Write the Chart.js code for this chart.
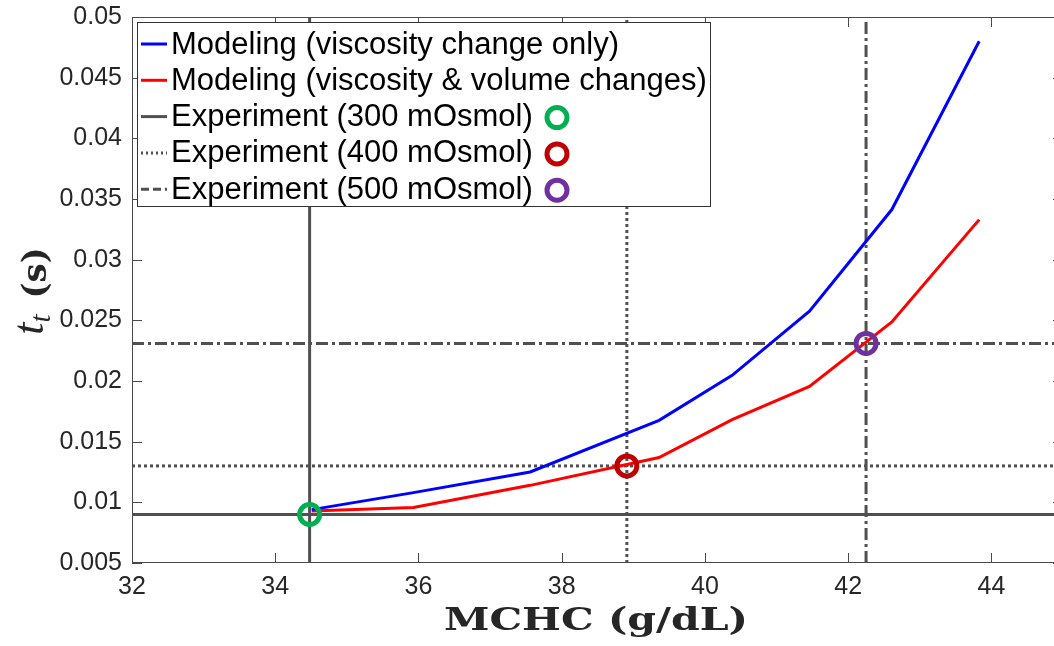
<!DOCTYPE html>
<html>
<head>
<meta charset="utf-8">
<script src="https://cdn.jsdelivr.net/npm/chart.js@4/dist/chart.umd.min.js"></script>
<style>
html,body{margin:0;padding:0;background:#fff;overflow:hidden;width:1054px;height:646px}
canvas{display:block}
</style>
</head>
<body>
<canvas id="c" width="1080" height="646" style="width:1080px;height:646px"></canvas>
<script>
// ---- data ----
const xTickValues = [32, 34, 36, 38, 40, 42, 44];
const xTickLabels = ['32', '34', '36', '38', '40', '42', '44'];
const yTickValues = [0.005, 0.01, 0.015, 0.02, 0.025, 0.03, 0.035, 0.04, 0.045, 0.05];
const yTickLabels = ['0.005', '0.01', '0.015', '0.02', '0.025', '0.03', '0.035', '0.04', '0.045', '0.05'];
const xRange = [32, 45];
const yRange = [0.005, 0.05];

const mchcModel = [34.51, 35.93, 37.56, 39.36, 40.38, 41.46, 42.61, 43.83];
const ttViscosityOnly = [0.0094, 0.0108, 0.0125, 0.01676, 0.02047, 0.02575, 0.03413, 0.0480];
const ttViscosityVolume = [0.00929, 0.00957, 0.0114, 0.01369, 0.01682, 0.01956, 0.02486, 0.0333];

const modelLabels = ['Modeling (viscosity change only)', 'Modeling (viscosity & volume changes)'];
const modelColors = ['#0000ff', '#ff0000'];

const expLabels = ['Experiment (300 mOsmol)', 'Experiment (400 mOsmol)', 'Experiment (500 mOsmol)'];
const expMCHC = [34.48, 38.91, 42.25];
const expTt = [0.0090, 0.0130, 0.0231];
const expMarkerColors = ['#00b050', '#c00000', '#7030a0'];
const expDashes = [[], [3, 3], [12, 4, 3, 4]];
const expLineColor = '#505050';

// ---- datasets ----
const datasets = [];
datasets.push({
  label: modelLabels[0],
  data: mchcModel.map((x, i) => ({x, y: ttViscosityOnly[i]})),
  borderColor: modelColors[0], borderWidth: 3, showLine: true, pointRadius: 0, order: 1
});
datasets.push({
  label: modelLabels[1],
  data: mchcModel.map((x, i) => ({x, y: ttViscosityVolume[i]})),
  borderColor: modelColors[1], borderWidth: 3, showLine: true, pointRadius: 0, order: 1
});
expLabels.forEach((lab, i) => {
  datasets.push({
    label: lab + ' h',
    data: [{x: xRange[0], y: expTt[i]}, {x: xRange[1], y: expTt[i]}],
    borderColor: expLineColor, borderWidth: 3, borderDash: expDashes[i],
    showLine: true, pointRadius: 0, order: 2
  });
  datasets.push({
    label: lab + ' v',
    data: [{x: expMCHC[i], y: yRange[0]}, {x: expMCHC[i], y: yRange[1]}],
    borderColor: expLineColor, borderWidth: 3, borderDash: expDashes[i],
    showLine: true, pointRadius: 0, order: 2
  });
});
expLabels.forEach((lab, i) => {
  datasets.push({
    label: lab + ' marker',
    data: [{x: expMCHC[i], y: expTt[i]}],
    showLine: false, pointStyle: 'circle', pointRadius: 10, pointHoverRadius: 10,
    pointBorderWidth: 5, pointBorderColor: expMarkerColors[i],
    pointBackgroundColor: 'rgba(0,0,0,0)', order: 0
  });
});

// ---- plugin: box, inward ticks, legend, axis titles ----
const decor = {
  id: 'decor',
  afterDraw(chart) {
    const ctx = chart.ctx;
    const a = chart.chartArea;
    const xs = chart.scales.x, ys = chart.scales.y;
    ctx.save();
    // box
    ctx.strokeStyle = '#4a4a4a';
    ctx.lineWidth = 1;
    ctx.setLineDash([]);
    ctx.strokeRect(a.left + 0.5, a.top + 0.5, a.right - a.left - 1, a.bottom - a.top - 1);
    // inward ticks
    ctx.beginPath();
    const tl = 10;
    xTickValues.forEach(v => {
      const px = Math.round(xs.getPixelForValue(v)) + 0.5;
      ctx.moveTo(px, a.bottom); ctx.lineTo(px, a.bottom - tl);
      ctx.moveTo(px, a.top); ctx.lineTo(px, a.top + tl);
    });
    yTickValues.forEach(v => {
      const py = Math.round(ys.getPixelForValue(v)) + 0.5;
      ctx.moveTo(a.left, py); ctx.lineTo(a.left + tl, py);
      ctx.moveTo(a.right, py); ctx.lineTo(a.right - tl, py);
    });
    ctx.stroke();

    // legend
    const lx0 = 137, ly0 = 22, lx1 = 710, ly1 = 206;
    ctx.fillStyle = '#ffffff';
    ctx.fillRect(lx0, ly0, lx1 - lx0, ly1 - ly0);
    ctx.strokeStyle = '#333333';
    ctx.lineWidth = 1;
    ctx.strokeRect(lx0 + 0.5, ly0 + 0.5, lx1 - lx0, ly1 - ly0);
    const rows = [
      {label: modelLabels[0], color: modelColors[0], dash: [], marker: null},
      {label: modelLabels[1], color: modelColors[1], dash: [], marker: null},
      {label: expLabels[0], color: expLineColor, dash: expDashes[0], marker: expMarkerColors[0]},
      {label: expLabels[1], color: expLineColor, dash: [2, 3], marker: expMarkerColors[1]},
      {label: expLabels[2], color: expLineColor, dash: [8, 4, 8, 4], marker: expMarkerColors[2]}
    ];
    ctx.font = '31px "Liberation Sans", Arial, sans-serif';
    ctx.textBaseline = 'middle';
    ctx.textAlign = 'left';
    rows.forEach((r, i) => {
      const y = 44 + i * 36.3;
      ctx.beginPath();
      ctx.setLineDash(r.dash);
      ctx.strokeStyle = r.color;
      ctx.lineWidth = 3;
      ctx.moveTo(141, y); ctx.lineTo(167, y);
      ctx.stroke();
      ctx.setLineDash([]);
      ctx.fillStyle = '#000000';
      ctx.fillText(r.label, 171, y + 1);
      if (r.marker) {
        ctx.beginPath();
        ctx.strokeStyle = r.marker;
        ctx.lineWidth = 5;
        ctx.arc(557, y + 1, 10, 0, Math.PI * 2);
        ctx.stroke();
      }
    });

    // x axis title
    ctx.fillStyle = '#262626';
    ctx.textBaseline = 'alphabetic';
    ctx.textAlign = 'left';
    ctx.font = 'bold 32px "DejaVu Serif", serif';
    const xt = 'MCHC (g/dL)';
    const w = ctx.measureText(xt).width;
    const target = 304;
    ctx.save();
    ctx.translate(444, 630);
    ctx.scale(target / w, 1);
    ctx.fillText(xt, 0, 0);
    ctx.restore();

    // y axis title: t_t (s)
    ctx.save();
    ctx.translate(46, 291);
    ctx.rotate(-Math.PI / 2);
    const f1 = 'italic 44px "Liberation Serif", serif';
    const f2 = 'italic 29px "Liberation Serif", serif';
    const f3 = 'bold 34px "DejaVu Serif", serif';
    ctx.font = f1; const w1 = ctx.measureText('t').width;
    ctx.font = f2; const w2 = ctx.measureText('t').width;
    ctx.font = f3; const w3 = ctx.measureText('(s)').width;
    const gap = 16;
    const total = w1 + w2 + gap + w3;
    let cx = -total / 2;
    ctx.font = f1; ctx.fillText('t', cx, -3); cx += w1;
    ctx.font = f2; ctx.fillText('t', cx, 4); cx += w2 + gap;
    ctx.font = f3; ctx.fillText('(s)', cx, 0);
    ctx.restore();

    ctx.restore();
  }
};

const tickFont = {family: '"Liberation Sans", Arial, sans-serif', size: 25};
function noPad(s) { s.paddingTop = 0; s.paddingBottom = 0; s.paddingLeft = 0; s.paddingRight = 0; }

new Chart(document.getElementById('c'), {
  type: 'scatter',
  data: {datasets},
  options: {
    responsive: false,
    animation: false,
    events: [],
    layout: {padding: {left: 0, top: 17, right: 17, bottom: 0}},
    plugins: {legend: {display: false}, tooltip: {enabled: false}, title: {display: false}},
    elements: {line: {tension: 0}},
    scales: {
      x: {
        type: 'linear', min: xRange[0], max: xRange[1],
        grid: {display: false, drawTicks: false},
        border: {display: false},
        afterBuildTicks: s => { s.ticks = xTickValues.map(v => ({value: v})); },
        afterFit: s => { s.height = 83; noPad(s); },
        ticks: {
          font: tickFont, color: '#262626', padding: 9, maxRotation: 0, autoSkip: false,
          callback: (v, i) => xTickLabels[i]
        }
      },
      y: {
        type: 'linear', min: yRange[0], max: yRange[1],
        grid: {display: false, drawTicks: false},
        border: {display: false},
        afterBuildTicks: s => { s.ticks = yTickValues.map(v => ({value: v})); },
        afterFit: s => { s.width = 132; noPad(s); },
        ticks: {
          font: tickFont, color: '#262626', padding: 10, autoSkip: false,
          callback: (v, i) => yTickLabels[i]
        }
      }
    }
  },
  plugins: [decor]
});
</script>
</body>
</html>
